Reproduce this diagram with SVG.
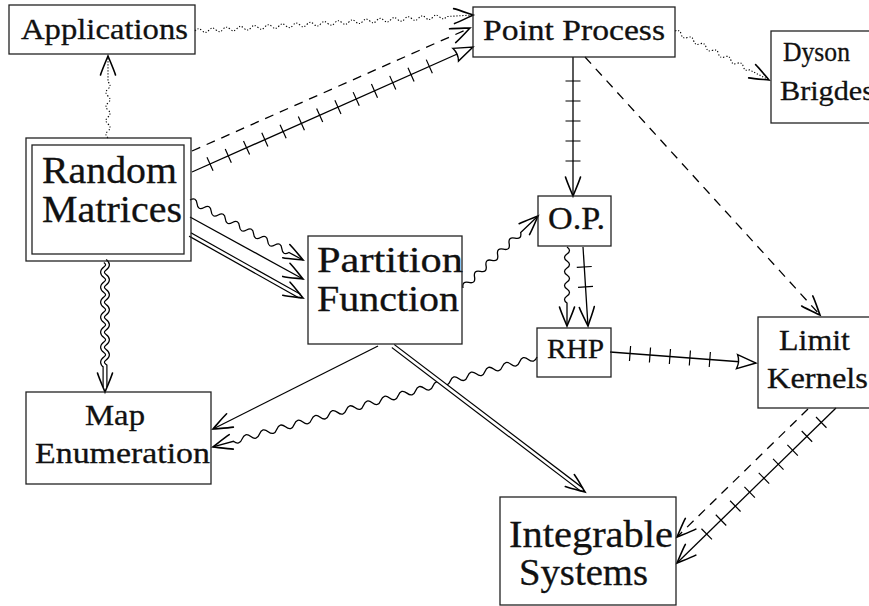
<svg xmlns="http://www.w3.org/2000/svg" width="869" height="606" viewBox="0 0 869 606">
<style>
.box{fill:none;stroke:#222;stroke-width:1.3}
.t{fill:#111;stroke:#111;stroke-width:0.3;font-family:'Liberation Serif','Times New Roman',serif}
.ln{fill:none;stroke:#000;stroke-width:1.3}
.dash{fill:none;stroke:#000;stroke-width:1.3;stroke-dasharray:9 7}
.dot{fill:none;stroke:#000;stroke-width:1.1;stroke-dasharray:1.2 1.8}
.tick{fill:none;stroke:#000;stroke-width:15;stroke-dasharray:1.2 18.8}
.dblo{fill:none;stroke:#000;stroke-width:5}
.dbli{fill:none;stroke:#fff;stroke-width:2.6}
.arr{fill:none;stroke:none}
</style>
<defs>
<marker id="to" markerUnits="userSpaceOnUse" viewBox="-22 -10 24 20" markerWidth="24" markerHeight="20" refX="0" refY="0" orient="auto" overflow="visible">
<path d="M-19,-7.5 C-14,-6 -5,-2 0,0 C-5,2 -14,6 -19,7.5" fill="none" stroke="#000" stroke-width="1.6" stroke-linecap="round"/>
</marker>
<marker id="tri" markerUnits="userSpaceOnUse" viewBox="-22 -10 24 20" markerWidth="24" markerHeight="20" refX="0" refY="0" orient="auto" overflow="visible">
<path d="M-19,-7 L0,0 L-19,7 Q-16,0 -19,-7 Z" fill="#fff" stroke="#000" stroke-width="1.4" stroke-linejoin="miter"/>
</marker>
</defs>
<rect width="869" height="606" fill="#fff"/>

<g id="connectors">
<path class="dot" marker-end="url(#to)" transform="translate(195 31) rotate(-3.29)" d="M0,0 q3.5,-4 7,0 t7,0 t7,0 t7,0 t7,0 t7,0 t7,0 t7,0 t7,0 t7,0 t7,0 t7,0 t7,0 t7,0 t7,0 t7,0 t7,0 t7,0 t7,0 t7,0 t7,0 t7,0 t7,0 t7,0 t7,0 t7,0 t7,0 t7,0 t7,0 t7,0 t7,0 t7,0 t7,0 t7,0 t7,0 t7,0 L278.5,0"/>
<path class="dot" marker-end="url(#to)" transform="translate(108 138) rotate(-90)" d="M0,0 q3.5,-4 7,0 t7,0 t7,0 t7,0 t7,0 t7,0 t7,0 t7,0 L82,0"/>
<path class="dash" marker-end="url(#to)" d="M192,151 L470,28"/>
<path class="ln" marker-end="url(#tri)" d="M192,172 L473,47"/>
<path class="tick" d="M209.46,164.24 L434.2,64.3"/>
<path class="ln" marker-end="url(#to)" transform="translate(190 200) rotate(27.96)" d="M0,0 q4,-6 8,0 t8,0 t8,0 t8,0 t8,0 t8,0 t8,0 t8,0 t8,0 t8,0 t8,0 t8,0 t8,0 t8,0 L128,0"/>
<path class="ln" marker-end="url(#to)" d="M190,217 L303,279"/>
<path class="dblo" d="M190,234.5 L299.5,296"/>
<path class="dbli" d="M189,233.9 L299.6,296"/>
<path class="arr" marker-end="url(#to)" d="M297.8,295.1 L303,298"/>
<g transform="translate(105 261) rotate(90)">
<path class="dblo" d="M0,0 q3.75,-5 7.5,0 t7.5,0 t7.5,0 t7.5,0 t7.5,0 t7.5,0 t7.5,0 t7.5,0 t7.5,0 t7.5,0 t7.5,0 t7.5,0 t7.5,0 t7.5,0 L126,0"/>
<path class="dbli" d="M-1,0 L0,0 q3.75,-5 7.5,0 t7.5,0 t7.5,0 t7.5,0 t7.5,0 t7.5,0 t7.5,0 t7.5,0 t7.5,0 t7.5,0 t7.5,0 t7.5,0 t7.5,0 t7.5,0 L126.2,0"/>
<path class="arr" marker-end="url(#to)" d="M125,0 L131,0"/>
</g>
<path class="ln" marker-end="url(#to)" d="M573,57 L573,196"/>
<path class="tick" d="M573,80.4 L573,170"/>
<path class="dot" marker-end="url(#to)" transform="translate(675 31) rotate(27.53)" d="M0,0 q3.5,-4 7,0 t7,0 t7,0 t7,0 t7,0 t7,0 t7,0 t7,0 t7,0 t7,0 t7,0 t7,0 L106,0"/>
<path class="dash" marker-end="url(#to)" d="M585,57 L820,315"/>
<path class="ln" marker-end="url(#to)" transform="translate(463 288) rotate(-43.83)" d="M0,0 q4,-6 8,0 t8,0 t8,0 t8,0 t8,0 t8,0 t8,0 t8,0 t8,0 t8,0 L104,0"/>
<path class="ln" marker-end="url(#to)" transform="translate(567 247) rotate(90)" d="M0,0 q3.5,-5 7,0 t7,0 t7,0 t7,0 t7,0 t7,0 t7,0 t7,0 L79,0"/>
<path class="ln" marker-end="url(#to)" d="M583,247 L588,326"/>
<path class="tick" d="M584.23,266.36 L585.84,291.9"/>
<path class="ln" marker-end="url(#tri)" d="M610,352 L756,363"/>
<path class="tick" d="M629.44,353.46 L714.7,359.9"/>
<path class="ln" marker-end="url(#to)" d="M378,346 L213,429"/>
<path class="ln" marker-end="url(#to)" transform="translate(537 357) rotate(164.48)" d="M0,0 q4.5,-6 9,0 t9,0 t9,0 t9,0 t9,0 t9,0 t9,0 t9,0 t9,0 t9,0 t9,0 t9,0 t9,0 t9,0 t9,0 t9,0 t9,0 t9,0 t9,0 t9,0 t9,0 t9,0 t9,0 t9,0 t9,0 t9,0 t9,0 t9,0 t9,0 t9,0 t9,0 t9,0 t9,0 t9,0 t9,0 L336.3,0"/>
<path class="dblo" d="M393,346 L581.8,489.6"/>
<path class="dbli" d="M392.2,345.4 L581.9,489.7"/>
<path class="arr" marker-end="url(#to)" d="M580.2,488.4 L585,492"/>
<path class="dash" marker-end="url(#to)" d="M808,409 L677,537"/>
<path class="ln" marker-end="url(#to)" d="M836,408 L677,563"/>
<path class="tick" d="M821.68,421.96 L699.2,541.4"/>
</g>

<g id="applications">
<rect class="box" x="9" y="5" width="186" height="49"/>
<text class="t" x="21" y="39" font-size="30" textLength="167" lengthAdjust="spacingAndGlyphs">Applications</text>
</g>
<g id="point-process">
<rect class="box" x="473" y="7" width="202" height="50"/>
<text class="t" x="483" y="40" font-size="30" textLength="182" lengthAdjust="spacingAndGlyphs">Point Process</text>
</g>
<g id="dyson-brigdes">
<rect class="box" x="771" y="31" width="110" height="92"/>
<text class="t" x="783" y="61" font-size="28" textLength="67" lengthAdjust="spacingAndGlyphs">Dyson</text>
<text class="t" x="780" y="100" font-size="28" textLength="94" lengthAdjust="spacingAndGlyphs">Brigdes</text>
</g>
<g id="random-matrices">
<rect class="box" x="26" y="138" width="165" height="123"/>
<rect class="box" x="32" y="145" width="152" height="109"/>
<text class="t" x="42" y="183" font-size="37" textLength="135" lengthAdjust="spacingAndGlyphs">Random</text>
<text class="t" x="42" y="222" font-size="37" textLength="140" lengthAdjust="spacingAndGlyphs">Matrices</text>
</g>
<g id="partition-function">
<rect class="box" x="308" y="236" width="154" height="108"/>
<text class="t" x="317" y="272" font-size="36" textLength="146" lengthAdjust="spacingAndGlyphs">Partition</text>
<text class="t" x="317" y="311" font-size="36" textLength="142" lengthAdjust="spacingAndGlyphs">Function</text>
</g>
<g id="op">
<rect class="box" x="538" y="196" width="73" height="50"/>
<text class="t" x="548" y="229" font-size="31" textLength="57" lengthAdjust="spacingAndGlyphs">O.P.</text>
</g>
<g id="rhp">
<rect class="box" x="537" y="328" width="74" height="49"/>
<text class="t" x="547" y="358" font-size="28" textLength="57" lengthAdjust="spacingAndGlyphs">RHP</text>
</g>
<g id="limit-kernels">
<rect class="box" x="758" y="317" width="120" height="91"/>
<text class="t" x="779" y="350" font-size="30" textLength="71" lengthAdjust="spacingAndGlyphs">Limit</text>
<text class="t" x="767" y="388" font-size="30" textLength="101" lengthAdjust="spacingAndGlyphs">Kernels</text>
</g>
<g id="map-enumeration">
<rect class="box" x="26" y="392" width="185" height="92"/>
<text class="t" x="85" y="425" font-size="30" textLength="60" lengthAdjust="spacingAndGlyphs">Map</text>
<text class="t" x="35" y="463" font-size="30" textLength="175" lengthAdjust="spacingAndGlyphs">Enumeration</text>
</g>
<g id="integrable-systems">
<rect class="box" x="500" y="497" width="176" height="108"/>
<text class="t" x="509" y="547" font-size="37" textLength="164" lengthAdjust="spacingAndGlyphs">Integrable</text>
<text class="t" x="519" y="585" font-size="37" textLength="129" lengthAdjust="spacingAndGlyphs">Systems</text>
</g>
</svg>
